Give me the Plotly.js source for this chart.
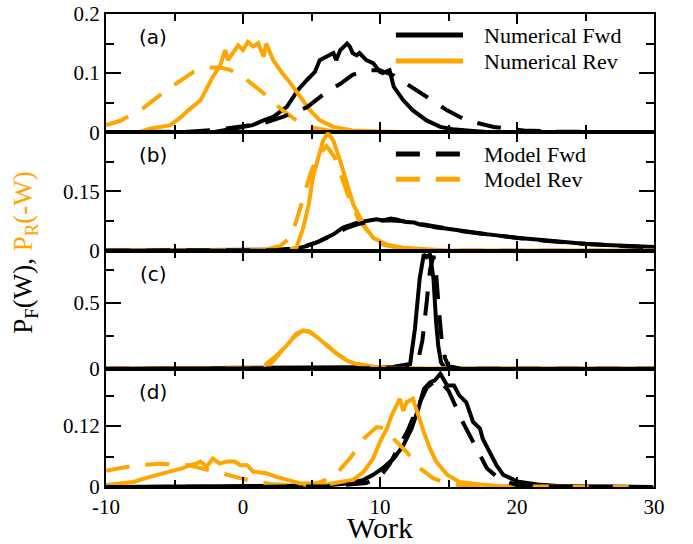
<!DOCTYPE html>
<html>
<head>
<meta charset="utf-8">
<script src="https://cdn.plot.ly/plotly-3.0.1.min.js"></script>
<style>html,body{margin:0;padding:0;background:#fff;}#chart{width:693px;height:544px;}</style>
</head>
<body>
<div id="chart"></div>
<script>
// ---------- Panel (a) ----------
const numFwdA_x = [-10,-2,-0.7,0.7,1.5,2.2,3.2,4.0,4.65,5.25,5.6,6.2,6.6,6.8,7.1,7.6,7.8,8.0,8.3,8.5,8.8,9.0,9.5,9.75,10.0,10.2,10.5,10.7,11.0,11.2,11.7,12.4,13.4,14.4,15.3,16.8,18,30];
const numFwdA_y = [0,0.001,0.006,0.012,0.02,0.026,0.043,0.071,0.088,0.102,0.122,0.130,0.134,0.122,0.139,0.150,0.145,0.134,0.13,0.134,0.127,0.122,0.117,0.108,0.102,0.10,0.102,0.105,0.077,0.071,0.054,0.037,0.020,0.009,0.005,0.002,0,0];
const numRevA_x = [-10,-7.5,-6.8,-5.3,-4.5,-4.0,-3.1,-2.65,-2.2,-1.7,-1.3,-1.1,-0.7,-0.35,0,0.36,0.73,1.1,1.5,1.7,2.2,2.8,3.4,4.2,4.9,5.6,6.6,8.0,10,12,30];
const numRevA_y = [0,0.001,0.006,0.012,0.026,0.037,0.054,0.074,0.094,0.111,0.139,0.122,0.134,0.147,0.139,0.153,0.145,0.151,0.128,0.150,0.122,0.102,0.085,0.060,0.037,0.020,0.009,0.003,0.001,0,0];
const modFwdA_x = [-10,-4,-2,0,1.7,2.9,4.65,6.1,7.1,8.0,9.0,10.0,11.0,11.9,13.4,14.9,16.3,18.3,20.5,23,30];
const modFwdA_y = [0,0.001,0.004,0.01,0.017,0.026,0.042,0.068,0.082,0.097,0.105,0.105,0.096,0.083,0.06,0.037,0.02,0.009,0.003,0.001,0];
const modRevA_x = [-10,-9,-7.5,-5.6,-3.6,-2.5,-1.8,-1,0,1.5,2.9,3.9,5,6.4,8,30];
const modRevA_y = [0.012,0.019,0.037,0.071,0.102,0.109,0.110,0.106,0.094,0.066,0.037,0.02,0.008,0.002,0,0];

// ---------- Panel (b) ----------
const numFwdB_x = [-10,3.2,4.0,4.65,5.6,6.6,7.3,8.3,9.0,9.75,10.2,10.5,10.8,11.2,11.5,11.9,12.5,12.9,13.5,14.1,14.8,15.4,16.0,16.6,17.2,17.8,18.4,19.0,19.5,20.0,20.8,21.7,22.9,24.1,25.3,26.5,27.7,29.0,30];
const numFwdB_y = [0,0.002,0.006,0.011,0.024,0.041,0.058,0.07,0.075,0.079,0.076,0.078,0.081,0.079,0.075,0.072,0.071,0.066,0.063,0.058,0.056,0.053,0.05,0.045,0.044,0.041,0.039,0.036,0.035,0.032,0.03,0.027,0.023,0.019,0.016,0.014,0.012,0.010,0.009];
const modFwdB_x = [-10,2.5,3.5,4.5,5.5,6.5,7.5,8.5,9.5,10.5,11.5,12.5,14,16,18,20,22,24,26,28,30];
const modFwdB_y = [0,0.001,0.005,0.011,0.022,0.038,0.056,0.068,0.075,0.077,0.075,0.07,0.061,0.049,0.040,0.032,0.025,0.019,0.014,0.011,0.008];
const numRevB_x = [-10,3.0,3.9,4.4,4.8,5.1,5.5,5.85,6.2,6.6,7.1,7.6,8.05,8.8,9.5,10.5,11.7,13.4,15,30];
const numRevB_y = [0,0.001,0.007,0.058,0.117,0.185,0.236,0.279,0.298,0.278,0.227,0.168,0.117,0.066,0.032,0.015,0.007,0.003,0,0];
const modRevB_x = [-10,1.5,2.7,3.4,3.9,4.4,4.9,5.4,6.1,6.7,7.3,7.9,8.5,9.3,10.2,11.4,13,30];
const modRevB_y = [0,0.001,0.011,0.032,0.075,0.134,0.193,0.236,0.265,0.236,0.176,0.117,0.075,0.041,0.015,0.006,0.001,0];

// ---------- Panel (c) ----------
const numFwdC_x = [-10,1.7,4,8,11,12.2,12.55,12.9,13.2,13.4,13.65,13.9,14.1,14.25,14.45,14.7,16,30];
const numFwdC_y = [0,0.004,0.01,0.012,0.015,0.036,0.305,0.69,0.87,0.85,0.87,0.69,0.35,0.177,0.05,0.01,0,0];
const modFwdC_x = [-10,12,12.8,13.1,13.4,13.65,13.9,14.1,14.3,14.5,14.75,15.0,16,30];
const modFwdC_y = [0,0.005,0.07,0.22,0.5,0.75,0.86,0.72,0.45,0.22,0.08,0.02,0,0];
const numRevC_x = [-10,1.6,1.7,2.45,3.2,3.9,4.4,4.9,5.4,6.1,6.85,7.6,8.3,9.6,10.6,12,30];
const numRevC_y = [0,0,0.036,0.1,0.177,0.267,0.292,0.279,0.241,0.177,0.113,0.062,0.036,0.015,0.008,0.002,0];
const modRevC_x = [-10,1.8,2.3,3.0,3.7,4.3,4.8,5.3,6.0,6.8,7.5,8.3,9.5,11,30];
const modRevC_y = [0,0.01,0.07,0.15,0.24,0.285,0.285,0.25,0.19,0.12,0.07,0.035,0.012,0.003,0];

// ---------- Panel (d) ----------
const numFwdD_x = [-10,-6,0,4,6,7.6,8.8,9.5,10.2,11.0,11.7,12.3,12.8,13.2,13.65,14.0,14.4,14.9,15.4,15.8,16.3,16.8,17.3,17.5,18.0,18.5,19.0,20.0,21.5,23,30];
const numFwdD_y = [0,0.001,0.001,0.002,0.003,0.007,0.014,0.024,0.037,0.056,0.082,0.115,0.154,0.193,0.206,0.21,0.223,0.2,0.2,0.18,0.167,0.128,0.115,0.095,0.069,0.043,0.024,0.011,0.005,0.002,0];
const modFwdD_x = [-10,6,9,10,10.7,11.3,12,12.7,13.4,14.2,15,16,17,17.8,18.8,20,22,30];
const modFwdD_y = [0,0.001,0.008,0.02,0.045,0.075,0.11,0.155,0.195,0.213,0.19,0.13,0.078,0.037,0.014,0.004,0.001,0];
const numRevD_x = [-10,-8.0,-6.8,-5.8,-5.1,-4.4,-3.9,-3.4,-3.1,-2.65,-2.2,-1.7,-1.2,-0.6,-0.2,0.3,0.75,1.7,2.45,3.2,4.2,5.1,6.1,7.1,8.05,8.8,9.5,10.0,10.5,10.85,11.2,11.45,11.7,11.95,12.4,12.8,13.2,13.65,14.1,14.9,15.8,17.3,19,30];
const numRevD_y = [0.004,0.01,0.02,0.027,0.033,0.037,0.043,0.046,0.05,0.04,0.056,0.046,0.05,0.05,0.043,0.043,0.03,0.027,0.02,0.014,0.007,0.007,0.005,0.01,0.014,0.03,0.056,0.089,0.115,0.141,0.16,0.174,0.15,0.167,0.174,0.14,0.108,0.076,0.05,0.024,0.01,0.005,0.001,0];
const modRevD_x = [-10,-8,-6,-4,-2,0,2,4,5.5,6.6,7.8,8.8,9.75,10.5,11.0,11.95,12.9,13.9,14.9,16.5,30];
const modRevD_y = [0.032,0.042,0.046,0.043,0.03,0.016,0.006,0.003,0.008,0.02,0.056,0.095,0.118,0.115,0.095,0.069,0.037,0.017,0.007,0.001,0];

// ---------- Axis ticks ----------
const xTickVals = [-10,0,10,20,30];
const xTickText = ['-10','0','10','20','30'];
const xMinorVals = [-5,5,15,25];
const yRanges = [[0,0.2],[0,0.3],[0,0.9],[0,0.233]];
const yTickVals = [[0,0.1,0.2],[0,0.15],[0,0.5],[0,0.12]];
const yTickText = [['0','0.1','0.2'],['0','0.15'],['0','0.5'],['0','0.12']];
const yMinorVals = [[0.05,0.15],[0.075,0.225,0.3],[0.25,0.75],[0.06,0.18]];
const panelLabels = ['(a)','(b)','(c)','(d)'];
const legendNames = ['Numerical Fwd','Numerical Rev','Model Fwd','Model Rev'];

const BLACK = '#000000', ORANGE = '#FFA500';
const DASH = '24px,16px';
const SERIF = 'Liberation Serif, Times New Roman, serif';

const panels = [
  {nf:[numFwdA_x,numFwdA_y], nr:[numRevA_x,numRevA_y], mf:[modFwdA_x,modFwdA_y], mr:[modRevA_x,modRevA_y]},
  {nf:[numFwdB_x,numFwdB_y], nr:[numRevB_x,numRevB_y], mf:[modFwdB_x,modFwdB_y], mr:[modRevB_x,modRevB_y]},
  {nf:[numFwdC_x,numFwdC_y], nr:[numRevC_x,numRevC_y], mf:[modFwdC_x,modFwdC_y], mr:[modRevC_x,modRevC_y]},
  {nf:[numFwdD_x,numFwdD_y], nr:[numRevD_x,numRevD_y], mf:[modFwdD_x,modFwdD_y], mr:[modRevD_x,modRevD_y]}
];

const traces = [];
panels.forEach((p, i) => {
  const xa = i === 0 ? 'x' : 'x' + (i + 1);
  const ya = i === 0 ? 'y' : 'y' + (i + 1);
  const mk = (d, color, dash, name) => ({
    type: 'scatter', mode: 'lines', x: d[0], y: d[1], xaxis: xa, yaxis: ya,
    name: name, showlegend: false, hoverinfo: 'skip',
    line: {color: color, width: 4, dash: dash}
  });
  traces.push(mk(p.nf, BLACK, 'solid', legendNames[0]));
  traces.push(mk(p.nr, ORANGE, 'solid', legendNames[1]));
  traces.push(mk(p.mr, ORANGE, DASH, legendNames[3]));
  traces.push(mk(p.mf, BLACK, DASH, legendNames[2]));
});

const layout = {
  width: 693, height: 544,
  margin: {l: 106, r: 39, t: 14, b: 57},
  paper_bgcolor: '#fff', plot_bgcolor: '#fff',
  showlegend: false,
  font: {family: SERIF, color: '#000', size: 21},
  annotations: [], shapes: []
};

const doms = [[0.75,1],[0.5,0.75],[0.25,0.5],[0,0.25]];
for (let i = 0; i < 4; i++) {
  const sfx = i === 0 ? '' : String(i + 1);
  layout['xaxis' + sfx] = {
    range: [-10, 30], anchor: 'y' + sfx, domain: [0, 1],
    tickmode: 'array', tickvals: xTickVals, ticktext: xTickText,
    showticklabels: i === 3,
    ticks: 'inside', ticklen: 10, tickwidth: 2, tickcolor: '#000',
    minor: {tickmode: 'array', tickvals: xMinorVals, ticks: 'inside', ticklen: 7, tickwidth: 2, tickcolor: '#000', showgrid: false},
    showline: true, linecolor: '#000', linewidth: 2, mirror: 'ticks',
    showgrid: false, zeroline: false, fixedrange: true,
    tickfont: {family: SERIF, size: 21, color: '#000'}
  };
  if (i > 0) layout['xaxis' + sfx].matches = 'x';
  layout['yaxis' + sfx] = {
    range: yRanges[i], anchor: 'x' + sfx, domain: doms[i],
    tickmode: 'array', tickvals: yTickVals[i], ticktext: yTickText[i],
    ticks: 'inside', ticklen: 15, tickwidth: 2, tickcolor: '#000',
    minor: {tickmode: 'array', tickvals: yMinorVals[i], ticks: 'inside', ticklen: 8, tickwidth: 2, tickcolor: '#000', showgrid: false},
    showline: true, linecolor: '#000', linewidth: 2, mirror: 'ticks',
    showgrid: false, zeroline: false, fixedrange: true,
    tickfont: {family: SERIF, size: 21, color: '#000'}
  };
  layout.annotations.push({
    text: panelLabels[i], xref: 'paper', yref: 'paper',
    x: 0.0858, y: doms[i][1] - 0.049, xanchor: 'center', yanchor: 'middle',
    showarrow: false, font: {family: 'DejaVu Sans, sans-serif', size: 20, color: '#000'}
  });
}
layout.xaxis4.title = {text: 'Work', font: {family: SERIF, size: 30, color: '#000'}, standoff: 5};

// y-axis title (two colours)
layout.annotations.push({
  text: 'P<sub>F</sub>(W), <span style="color:' + ORANGE + '">P<sub>R</sub>(-W)</span>',
  xref: 'paper', yref: 'paper', x: -0.148, y: 0.497, xanchor: 'center', yanchor: 'middle',
  textangle: -90, showarrow: false, font: {family: SERIF, size: 27, color: '#000'}
});

// legend (drawn manually: long line samples)
const legendRows = [
  {name: legendNames[0], color: BLACK, dash: 'solid', y: 0.9556},
  {name: legendNames[1], color: ORANGE, dash: 'solid', y: 0.9006},
  {name: legendNames[2], color: BLACK, dash: DASH, y: 0.704},
  {name: legendNames[3], color: ORANGE, dash: DASH, y: 0.6505}
];
legendRows.forEach(r => {
  layout.shapes.push({type: 'line', xref: 'paper', yref: 'paper', x0: 0.529, x1: 0.6515, y0: r.y, y1: r.y,
    line: {color: r.color, width: 5, dash: r.dash}});
  layout.annotations.push({text: r.name, xref: 'paper', yref: 'paper', x: 0.6856, y: r.y,
    xanchor: 'left', yanchor: 'middle', showarrow: false, font: {family: SERIF, size: 22, color: '#000'}});
});

Plotly.newPlot('chart', traces, layout, {displayModeBar: false, staticPlot: true});
</script>
</body>
</html>
